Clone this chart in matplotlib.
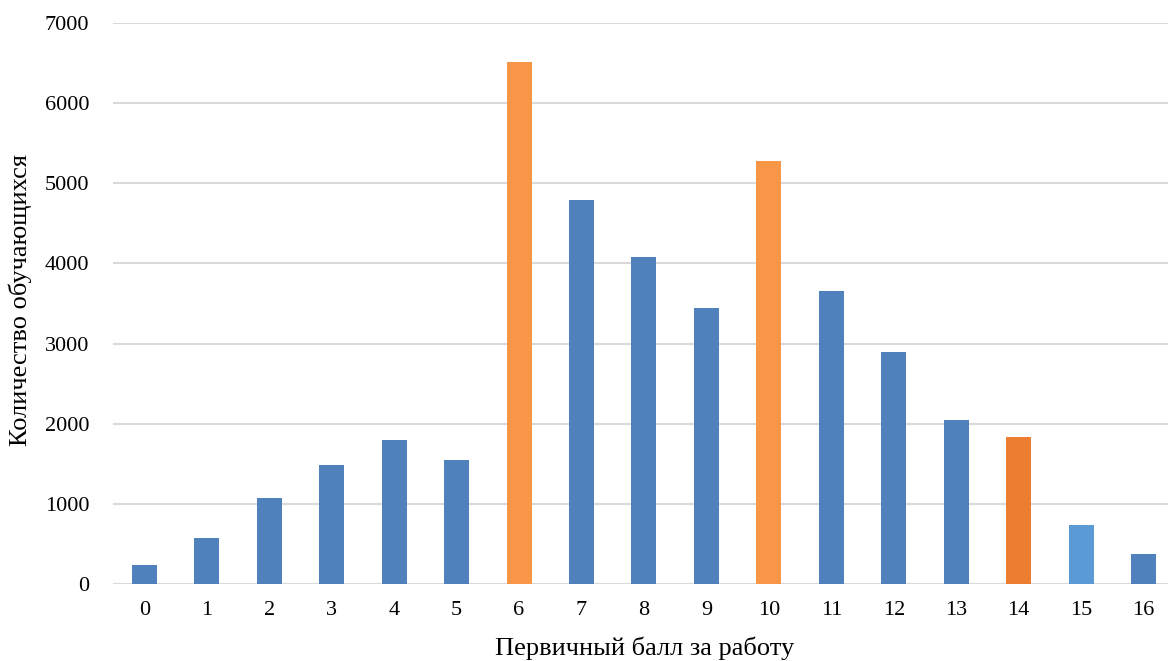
import numpy as np
import matplotlib.pyplot as plt

plt.rcParams['font.family'] = ['Liberation Serif', 'DejaVu Serif']

scores = list(range(17))
counts = [240, 570, 1070, 1480, 1800, 1550, 6510, 4790, 4080, 3440, 5280, 3660, 2890, 2050, 1830, 730, 380]
colors = ['#4f81bd'] * 17
colors[6] = '#f79646'
colors[10] = '#f79646'
colors[14] = '#ed7d31'
colors[15] = '#5b9bd5'

fig = plt.figure(figsize=(11.68, 6.61), dpi=100)
ax = fig.add_axes([113 / 1168, 77 / 661, 1 - 113 / 1168, 561 / 661])

ax.bar(scores, counts, width=0.4, color=colors, zorder=3)

ax.set_xlim(-0.5, 16.39)
ax.set_ylim(0, 7000)
ax.set_yticks(np.arange(0, 7001, 1000))
ax.set_xticks(scores)
ax.yaxis.grid(True, color='#d9d9d9', linewidth=1.5, zorder=0)
for s in ax.spines.values():
    s.set_visible(False)
ax.tick_params(length=0, labelsize=16)
ax.tick_params(axis='x', pad=12)
ax.tick_params(axis='y', pad=17)

# axis titles
fig.text(645 / 1168, 1 - 648 / 661, 'Первичный балл за работу', fontsize=19,
         ha='center', va='center')
fig.text(20 / 1168, 1 - 300 / 661, 'Количество обучающихся', fontsize=19,
         ha='center', va='center', rotation=90)

fig.savefig('out.png', dpi=100)
